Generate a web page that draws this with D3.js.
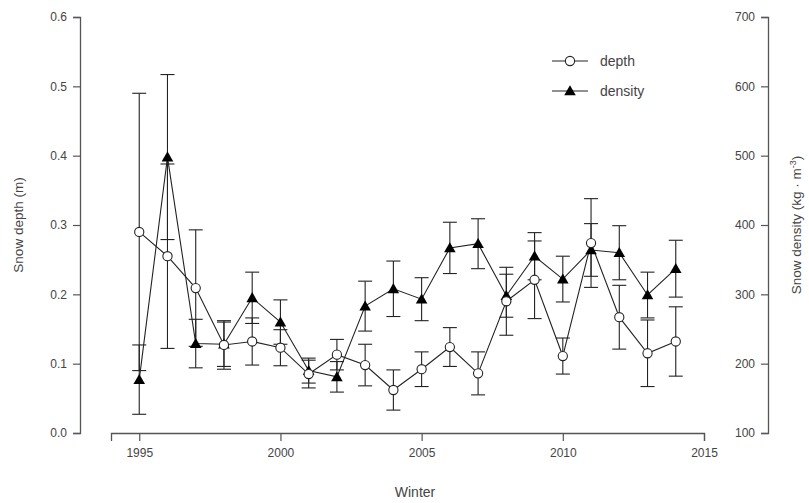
<!DOCTYPE html>
<html>
<head>
<meta charset="utf-8">
<script src="https://cdn.jsdelivr.net/npm/d3@7"></script>
<style>
body { margin: 0; background: #fff; }
svg text { font-family: "Liberation Sans", Arial, sans-serif; fill: #444; }
</style>
</head>
<body>
<svg id="chart" width="809" height="503"></svg>
<script>
var years = [1995, 1996, 1997, 1998, 1999, 2000, 2001, 2002, 2003, 2004,
		2005, 2006, 2007, 2008, 2009, 2010, 2011, 2012, 2013, 2014];
var depth = [0.29, 0.255, 0.209, 0.127, 0.132, 0.123, 0.085, 0.113, 0.098, 0.062,
		0.092, 0.124, 0.086, 0.19, 0.221, 0.111, 0.274, 0.167, 0.115, 0.132];
var depthErr = [0.2, 0.133, 0.084, 0.035, 0.034, 0.026, 0.02, 0.022, 0.03, 0.029,
		0.025, 0.028, 0.031, 0.049, 0.056, 0.026, 0.064, 0.046, 0.048, 0.05];
var density = [177, 498, 229, 228, 295, 260, 190, 181, 283, 308,
		293, 367, 373, 298, 355, 322, 364, 360, 299, 337];
var densityErr = [50, 119, 35, 32, 37, 32, 18, 22, 36, 40,
		31, 37, 36, 31, 34, 33, 38, 39, 33, 41];
var xTicks = [1995, 2000, 2005, 2010, 2015];
var depthTicks = [0, 0.1, 0.2, 0.3, 0.4, 0.5, 0.6];
var densityTicks = [100, 200, 300, 400, 500, 600, 700];

var svg = d3.select("#chart");
var top_ = 17, bottom = 433;

var x = d3.scaleLinear().domain([1994, 2015]).range([111, 704]);
var yL = d3.scaleLinear().domain([0, 0.6]).range([bottom, top_]);
var yR = d3.scaleLinear().domain([100, 700]).range([bottom, top_]);

function styleAxis(g) {
	g.select(".domain").attr("stroke", "#555").attr("stroke-width", 1.3);
	g.selectAll(".tick line").attr("stroke", "#555").attr("stroke-width", 1.2);
	g.selectAll(".tick text").attr("fill", "#444").style("font-size", "12px");
}

// left axis
svg.append("g")
		.attr("transform", "translate(80,0)")
		.call(d3.axisLeft(yL).tickValues(depthTicks).tickFormat(d3.format(".1f")).tickSizeOuter(0).tickSize(7).tickPadding(6))
		.call(styleAxis);

// right axis (labels sit inside, like the original)
svg.append("g")
		.attr("transform", "translate(768,0)")
		.call(d3.axisLeft(yR).tickValues(densityTicks).tickFormat(d3.format("d")).tickSizeOuter(0).tickSize(7).tickPadding(6))
		.call(styleAxis);

// x axis
svg.append("g")
		.attr("transform", "translate(0," + bottom + ")")
		.call(d3.axisBottom(x).tickValues(xTicks).tickFormat(d3.format("d")).tickSizeOuter(0).tickSize(8).tickPadding(7))
		.call(styleAxis);

// axis titles
svg.append("text")
		.attr("transform", "translate(23," + ((top_ + bottom) / 2) + ") rotate(-90)")
		.attr("text-anchor", "middle")
		.style("font-size", "13.5px")
		.text("Snow depth (m)");

var rt = svg.append("text")
		.attr("transform", "translate(801," + ((top_ + bottom) / 2) + ") rotate(-90)")
		.attr("text-anchor", "middle")
		.style("font-size", "13.5px");
rt.append("tspan").text("Snow density (kg \u00b7 m");
rt.append("tspan").attr("dy", -5).style("font-size", "9px").text("-3");
rt.append("tspan").attr("dy", 5).text(")");

svg.append("text")
		.attr("x", 415)
		.attr("y", 497)
		.attr("text-anchor", "middle")
		.style("font-size", "14px")
		.text("Winter");

var depthData = years.map(function(yr, i) {
	return {year: yr, value: depth[i], err: depthErr[i]};
});
var densityData = years.map(function(yr, i) {
	return {year: yr, value: density[i], err: densityErr[i]};
});

function errorBars(data, y, cls) {
	var g = svg.append("g").attr("class", cls)
			.attr("stroke", "#222").attr("stroke-width", 1.1).attr("fill", "none");
	data.forEach(function(d) {
		var xi = x(d.year), y0 = y(d.value - d.err), y1 = y(d.value + d.err);
		g.append("line").attr("x1", xi).attr("x2", xi).attr("y1", y0).attr("y2", y1);
		g.append("line").attr("x1", xi - 7).attr("x2", xi + 7).attr("y1", y0).attr("y2", y0);
		g.append("line").attr("x1", xi - 7).attr("x2", xi + 7).attr("y1", y1).attr("y2", y1);
	});
}

errorBars(depthData, yL, "err-depth");
errorBars(densityData, yR, "err-density");

svg.append("path")
		.datum(densityData)
		.attr("fill", "none")
		.attr("stroke", "#222")
		.attr("stroke-width", 1.1)
		.attr("d", d3.line().x(function(d) { return x(d.year); }).y(function(d) { return yR(d.value); }));

svg.append("path")
		.datum(depthData)
		.attr("fill", "none")
		.attr("stroke", "#222")
		.attr("stroke-width", 1.1)
		.attr("d", d3.line().x(function(d) { return x(d.year); }).y(function(d) { return yL(d.value); }));

var tri = d3.symbol().type(d3.symbolTriangle).size(58);

svg.append("g").selectAll("path")
		.data(densityData)
		.enter().append("path")
		.attr("transform", function(d) { return "translate(" + x(d.year) + "," + (yR(d.value) + 1) + ")"; })
		.attr("d", tri)
		.attr("fill", "#000");

svg.append("g").selectAll("circle")
		.data(depthData)
		.enter().append("circle")
		.attr("cx", function(d) { return x(d.year); })
		.attr("cy", function(d) { return yL(d.value); })
		.attr("r", 4.6)
		.attr("fill", "#fff")
		.attr("stroke", "#222")
		.attr("stroke-width", 1.1);

// legend
var legend = svg.append("g");
legend.append("line").attr("x1", 552).attr("x2", 588).attr("y1", 61).attr("y2", 61).attr("stroke", "#222").attr("stroke-width", 1.1);
legend.append("circle").attr("cx", 570).attr("cy", 61).attr("r", 4.6).attr("fill", "#fff").attr("stroke", "#222").attr("stroke-width", 1.1);
legend.append("text").attr("x", 600).attr("y", 66).style("font-size", "14px").attr("fill", "#333").text("depth");
legend.append("line").attr("x1", 552).attr("x2", 588).attr("y1", 91).attr("y2", 91).attr("stroke", "#222").attr("stroke-width", 1.1);
legend.append("path").attr("transform", "translate(570,92)").attr("d", tri).attr("fill", "#000");
legend.append("text").attr("x", 600).attr("y", 96).style("font-size", "14px").attr("fill", "#333").text("density");
</script>
</body>
</html>
